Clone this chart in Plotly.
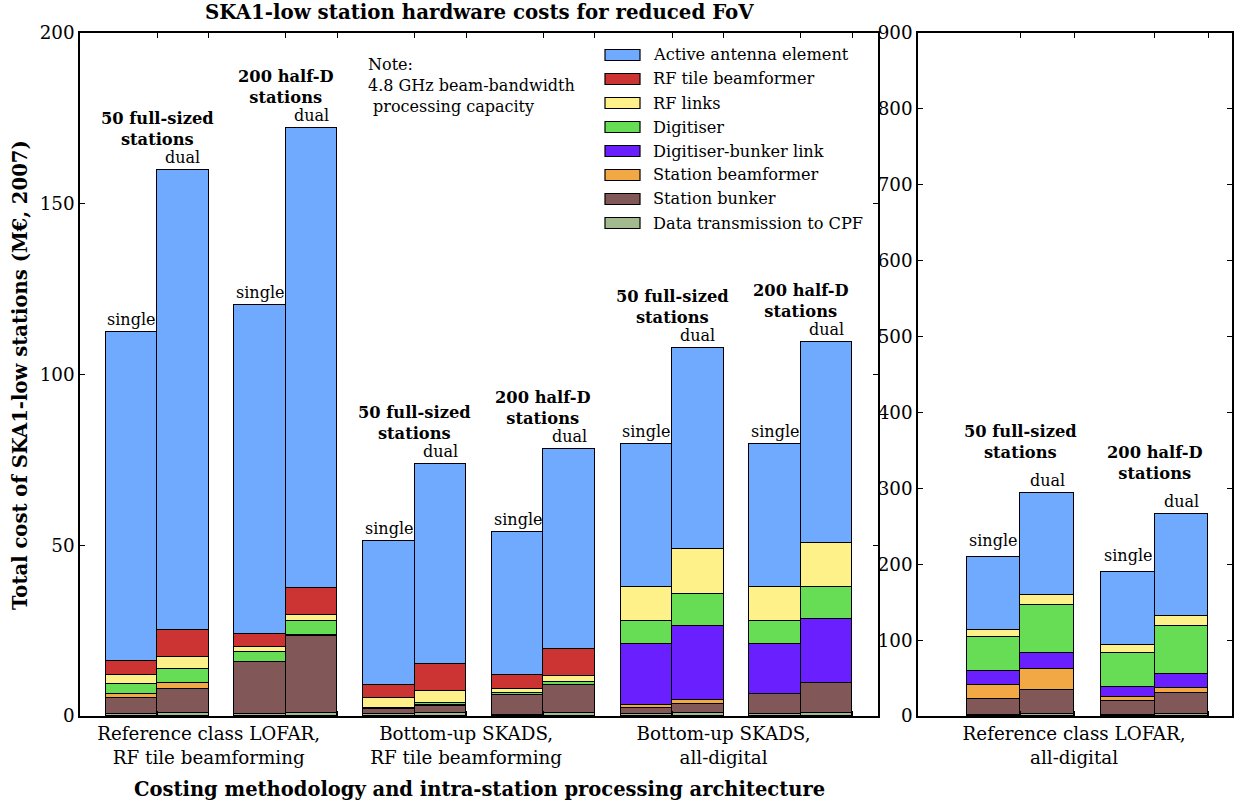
import plotly.graph_objects as go

# ---------------------------------------------------------------------------
# Cost components (M€, 2007), stacked bottom -> top.
# Left panel: 12 bars = 3 architectures x (50 full-sized, 200 half-D) x (single, dual)
# Right panel: 4 bars = LOFAR all-digital x (50 full-sized, 200 half-D) x (single, dual)
# ---------------------------------------------------------------------------
components = [
    "Data transmission to CPF",
    "Station bunker",
    "Station beamformer",
    "Digitiser-bunker link",
    "Digitiser",
    "RF links",
    "RF tile beamformer",
    "Active antenna element",
]
colors = ["#A3BA8F", "#825757", "#F2A845", "#6A1FFF",
          "#66DD55", "#FFF18A", "#CC3333", "#70AAFF"]

left_data_tx    = [0.5, 0.8, 0.5, 0.8, 0.6, 0.8, 0.4, 0.8, 0.5, 0.9, 0.5, 0.8]
left_bunker     = [4.8, 7.1, 15.2, 22.7, 1.35, 2.1, 5.65, 8.2, 1.85, 2.6, 5.85, 8.8]
left_station_bf = [1.05, 1.85, 0.2, 0.3, 0.1, 0.2, 0.1, 0.2, 0.85, 1.1, 0.15, 0.2]
left_dig_link   = [0, 0, 0, 0, 0, 0, 0, 0, 17.8, 21.7, 14.5, 18.5]
left_digitiser  = [2.95, 4.05, 2.75, 3.9, 0.4, 0.6, 0.45, 0.65, 6.7, 9.4, 6.7, 9.4]
left_rf_links   = [2.8, 3.6, 1.45, 1.9, 2.75, 3.5, 1.2, 1.85, 10.1, 13.1, 10.1, 13.1]
left_rf_tile_bf = [4.0, 7.8, 3.9, 7.8, 3.9, 7.9, 4.1, 7.8, 0, 0, 0, 0]
left_antenna    = [96.3, 134.7, 96.4, 134.8, 42.1, 58.7, 42.0, 58.7, 41.8, 59.0, 41.8, 58.7]

right_data_tx    = [1.5, 2.0, 1.5, 2.0]
right_bunker     = [20.5, 31.9, 17.8, 27.9]
right_station_bf = [18.4, 27.6, 5.3, 6.6]
right_dig_link   = [18.5, 21.9, 14.0, 18.8]
right_digitiser  = [44.8, 62.4, 44.8, 62.9]
right_rf_links   = [10.0, 13.6, 10.2, 13.1]
right_rf_tile_bf = [0, 0, 0, 0]
right_antenna    = [95.8, 134.4, 96.1, 134.9]

left_series = [left_data_tx, left_bunker, left_station_bf, left_dig_link,
               left_digitiser, left_rf_links, left_rf_tile_bf, left_antenna]
right_series = [right_data_tx, right_bunker, right_station_bf, right_dig_link,
                right_digitiser, right_rf_links, right_rf_tile_bf, right_antenna]

left_groups = ["Reference class LOFAR,<br>RF tile beamforming",
               "Bottom-up SKADS,<br>RF tile beamforming",
               "Bottom-up SKADS,<br>all-digital"]
right_groups = ["Reference class LOFAR,<br>all-digital"]
config_labels = ["50 full-sized<br>stations", "200 half-D<br>stations"]
mode_labels = ["single", "dual"]

FONT = "DejaVu Serif"
BAR_W = 0.4
W, H = 1256, 804


def bar_positions(n_bars):
    # pairs of adjacent bars (single, dual), one pair per unit slot
    return [(i // 2) + 0.4 + 0.4 * (i % 2) for i in range(n_bars)]


def totals(series):
    return [sum(vals) for vals in zip(*series)]


fig = go.Figure()
xl = bar_positions(len(left_antenna))
xr = bar_positions(len(right_antenna))

for name, col, lv, rv in zip(components, colors, left_series, right_series):
    common = dict(marker=dict(color=col, line=dict(color="black", width=1.3)),
                  width=BAR_W, legendgroup=name, name=name, showlegend=False)
    fig.add_trace(go.Bar(x=xl, y=lv, xaxis="x", yaxis="y", **common))
    fig.add_trace(go.Bar(x=xr, y=rv, xaxis="x2", yaxis="y2", **common))

annotations = []
shapes = []


def label_bars(xs, tots, xref, yref, single_shift, group_shift):
    for i, (x, t) in enumerate(zip(xs, tots)):
        annotations.append(dict(x=x, y=t, xref=xref, yref=yref, text=mode_labels[i % 2],
                                showarrow=False, yanchor="bottom",
                                yshift=single_shift if i % 2 == 0 else 1,
                                font=dict(family=FONT, size=16, color="black")))
        if i % 2 == 1:
            pair = i // 2
            annotations.append(dict(x=pair + 0.6, y=t, xref=xref, yref=yref,
                                    text="<b>" + config_labels[pair % 2] + "</b>",
                                    showarrow=False, yanchor="bottom", yshift=group_shift,
                                    font=dict(family=FONT, size=16.3, color="black")))


label_bars(xl, totals(left_series), "x", "y", 1, 19)
label_bars(xr, totals(right_series), "x2", "y2", 5, 29)

annotations.append(dict(x=2.22, y=194, xref="x", yref="y", xanchor="left", yanchor="top",
                        align="left", showarrow=False,
                        text="Note:<br>4.8 GHz beam-bandwidth<br> processing capacity",
                        font=dict(family=FONT, size=16, color="black")))
annotations.append(dict(x=479 / W, y=1 - 12 / H, xref="paper", yref="paper",
                        xanchor="center", yanchor="middle",
                        text="<b>SKA1-low station hardware costs for reduced FoV</b>",
                        showarrow=False, font=dict(family=FONT, size=19.8, color="black")))
annotations.append(dict(x=479 / W, y=1 - 789 / H, xref="paper", yref="paper",
                        xanchor="center", yanchor="middle",
                        text="<b>Costing methodology and intra-station processing architecture</b>",
                        showarrow=False, font=dict(family=FONT, size=19.5, color="black")))
annotations.append(dict(x=20 / W, y=1 - 375 / H, xref="paper", yref="paper",
                        xanchor="center", yanchor="middle", textangle=-90,
                        text="<b>Total cost of SKA1-low stations (M€, 2007)</b>",
                        showarrow=False, font=dict(family=FONT, size=19.6, color="black")))

# Legend key: wide swatches with text, top entry = top of the stack
LEG_X0, LEG_Y0, LEG_DY = 605, 55, 24
for row, k in enumerate(reversed(range(len(components)))):
    cy = LEG_Y0 + row * LEG_DY
    shapes.append(dict(type="rect", xref="paper", yref="paper",
                       x0=LEG_X0 / W, x1=(LEG_X0 + 35) / W,
                       y0=1 - (cy + 5.5) / H, y1=1 - (cy - 5.5) / H,
                       fillcolor=colors[k], line=dict(color="black", width=1.2)))
    annotations.append(dict(x=(LEG_X0 + 46) / W, y=1 - cy / H, xref="paper", yref="paper",
                            xanchor="left", yanchor="middle", text=components[k],
                            showarrow=False, font=dict(family=FONT, size=16.2, color="black")))


def edge_ticks(n_pairs):
    vals, texts = [], []
    for p in range(n_pairs):
        vals += [p + 0.6, p + 1.0]
        texts += ["", ""]
    return vals, texts


lv_ticks, lt_ticks = edge_ticks(6)
for k, g in enumerate(left_groups):
    lt_ticks[lv_ticks.index(2 * k + 1.0)] = g
rv_ticks, rt_ticks = edge_ticks(2)
rt_ticks[rv_ticks.index(1.0)] = right_groups[0]

axis_common = dict(showline=True, linecolor="black", linewidth=1.5, mirror="ticks",
                   ticks="inside", ticklen=5, tickwidth=1, tickcolor="black",
                   showgrid=False, zeroline=False, automargin=False,
                   tickfont=dict(family=FONT, size=18.3, color="black"))

y_dom = [1 - 716 / H, 1 - 33 / H]
fig.update_layout(
    width=W, height=H,
    margin=dict(l=0, r=0, t=0, b=0, pad=0, autoexpand=False),
    paper_bgcolor="white", plot_bgcolor="white",
    barmode="stack", bargap=0, showlegend=False,
    font=dict(family=FONT, color="black"),
    xaxis=dict(domain=[80 / W, 878 / W], range=[0, 6.2],
               tickvals=lv_ticks, ticktext=lt_ticks, anchor="y", **axis_common),
    yaxis=dict(domain=y_dom, range=[0, 200], tickvals=[0, 50, 100, 150, 200],
               anchor="x", **axis_common),
    xaxis2=dict(domain=[918 / W, 1232 / W], range=[-0.162, 2.176],
                tickvals=rv_ticks, ticktext=rt_ticks, anchor="y2", **axis_common),
    yaxis2=dict(domain=y_dom, range=[0, 900], tickvals=list(range(0, 901, 100)),
                anchor="x2", **axis_common),
    annotations=annotations,
    shapes=shapes,
)

fig.write_html("out.html")
